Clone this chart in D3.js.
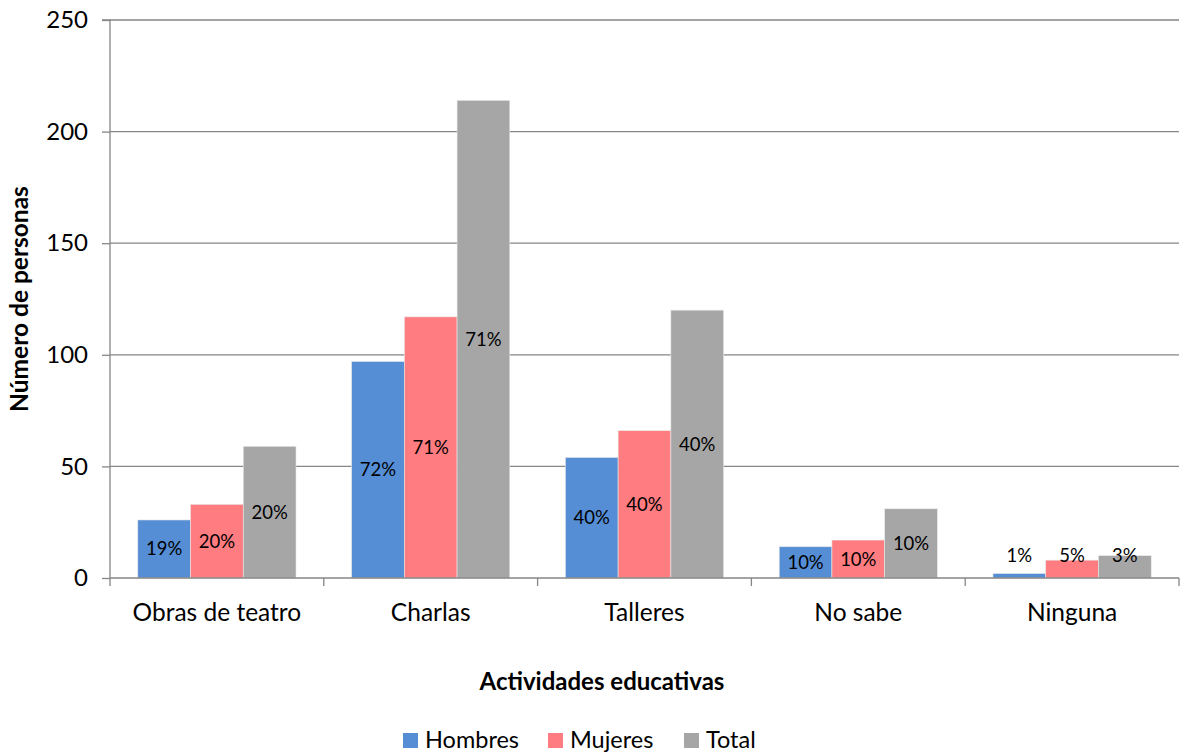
<!DOCTYPE html>
<html><head><meta charset="utf-8">
<script src="https://cdn.jsdelivr.net/npm/d3@7"></script>
<style>body{margin:0;background:#fff;} svg{display:block;font-family:Lato, "Open Sans", sans-serif;}</style>
</head><body>
<svg id="c" width="1180" height="755"></svg>
<script>
const categories = ["Obras de teatro", "Charlas", "Talleres", "No sabe", "Ninguna"];
const seriesNames = ["Hombres", "Mujeres", "Total"];
const hombres = [26, 97, 54, 14, 2];
const mujeres = [33, 117, 66, 17, 8];
const total = [59, 214, 120, 31, 10];
const pctHombres = ["19%", "72%", "40%", "10%", "1%"];
const pctMujeres = ["20%", "71%", "40%", "10%", "5%"];
const pctTotal = ["20%", "71%", "40%", "10%", "3%"];
const yTicks = [0, 50, 100, 150, 200, 250];
const colors = ["#558ED5", "#FF7C80", "#A6A6A6"];

const values = [hombres, mujeres, total];
const pcts = [pctHombres, pctMujeres, pctTotal];

const svg = d3.select("#c");
const L = 110, R = 1179, T = 20, B = 578;
const x0 = d3.scaleBand().domain(categories).range([L, R]).paddingInner(0.26).paddingOuter(0.13);
const x1 = d3.scaleBand().domain(seriesNames).range([0, x0.bandwidth()]);
const y = d3.scaleLinear().domain([0, 250]).range([B, T]);
const grid = "#868686";

// gridlines
svg.append("g").selectAll("line").data(yTicks.filter(d => d > 0)).join("line")
  .attr("x1", L).attr("x2", R).attr("y1", d => y(d)).attr("y2", d => y(d))
  .attr("stroke", grid).attr("stroke-width", 1.3);

// bars
categories.forEach((c, i) => {
  const g = svg.append("g");
  seriesNames.forEach((s, j) => {
    const v = values[j][i];
    const bx = x0(c) + x1(s);
    g.append("rect").attr("x", bx).attr("y", y(v)).attr("width", x1.bandwidth()).attr("height", B - y(v))
      .attr("fill", colors[j]).attr("stroke", "#e8e8e8").attr("stroke-width", 0.6);
  });
});

// y axis
const yAxis = d3.axisLeft(y).tickValues(yTicks).tickSize(8).tickPadding(14);
const ga = svg.append("g").attr("transform", `translate(${L},0)`).call(yAxis);
ga.select(".domain").attr("stroke", grid).attr("stroke-width", 1.3).attr("d", `M-8,${T}H0V${B}`);
ga.selectAll(".tick line").attr("stroke", grid).attr("stroke-width", 1.3);
ga.selectAll(".tick text").attr("font-size", 24).attr("fill", "#000").attr("font-family", "Lato");

// x axis
const xg = svg.append("g");
xg.append("line").attr("x1", L).attr("x2", R).attr("y1", B).attr("y2", B).attr("stroke", grid).attr("stroke-width", 1.3);
const bounds = categories.map(c => x0(c) - x0.step() * x0.paddingInner() / 2).concat([R]);
xg.selectAll("line.t").data(bounds).join("line").attr("class", "t")
  .attr("x1", d => d).attr("x2", d => d).attr("y1", B).attr("y2", B + 8).attr("stroke", grid).attr("stroke-width", 1.3);
xg.selectAll("text").data(categories).join("text")
  .attr("x", d => x0(d) + x0.bandwidth() / 2).attr("y", 621)
  .attr("text-anchor", "middle").attr("font-size", 24.5).attr("fill", "#000").text(d => d);

// labels
categories.forEach((c, i) => {
  seriesNames.forEach((s, j) => {
    const v = values[j][i];
    const bx = x0(c) + x1(s) + x1.bandwidth() / 2;
    const h = B - y(v);
    const cy = h < 25 ? B - 22 : (y(v) + B) / 2;
    svg.append("text").attr("x", bx).attr("y", cy).attr("dy", "0.35em")
      .attr("text-anchor", "middle").attr("font-size", 18.5).attr("fill", "#000").text(pcts[j][i]);
  });
});

// axis titles
svg.append("text").attr("x", 602).attr("y", 690).attr("text-anchor", "middle")
  .attr("font-size", 24).attr("font-weight", "bold").text("Actividades educativas");
svg.append("text").attr("transform", `translate(28,${(T + B) / 2}) rotate(-90)`).attr("text-anchor", "middle")
  .attr("font-size", 24.5).attr("font-weight", "bold").text("Número de personas");

// legend
const legX = [403, 548, 684];
const lg = svg.append("g");
seriesNames.forEach((s, j) => {
  lg.append("rect").attr("x", legX[j]).attr("y", 733).attr("width", 15).attr("height", 15).attr("fill", colors[j]);
  lg.append("text").attr("x", legX[j] + 22).attr("y", 748).attr("font-size", 23.5).attr("fill", "#000").text(s);
});
</script>
</body></html>
